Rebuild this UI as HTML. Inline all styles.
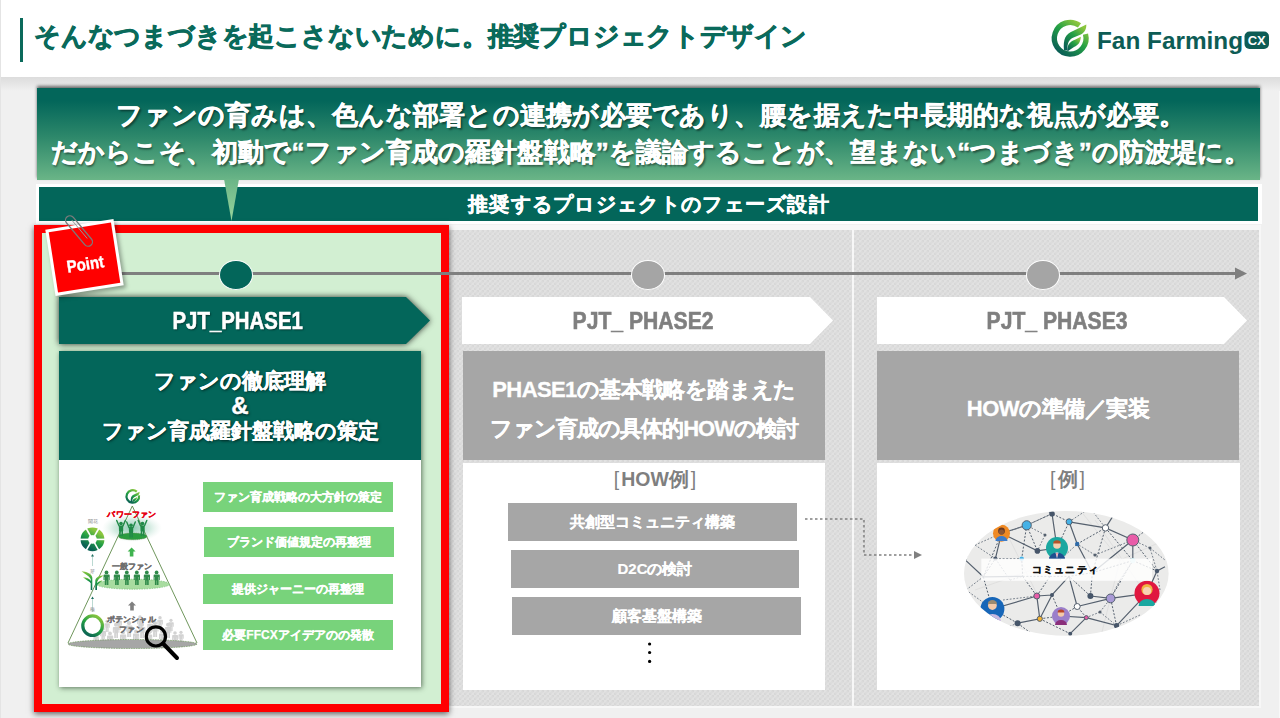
<!DOCTYPE html>
<html lang="ja">
<head>
<meta charset="utf-8">
<style>
*{margin:0;padding:0;box-sizing:border-box;}
html,body{width:1280px;height:718px;overflow:hidden;}
body{position:relative;background:#f0f0f0;font-family:"Liberation Sans",sans-serif;}
.b{-webkit-text-stroke:0.9px currentColor;}
.abs{position:absolute;}
#header{left:1px;top:0;width:1279px;height:77px;background:#fff;}
#hshadow{left:1px;top:77px;width:1279px;height:14px;background:linear-gradient(#dcdcdc,#f0f0f0);}
#leftline{left:0;top:0;width:1px;height:718px;background:#e4e4e4;}
#rightline{left:1279px;top:77px;width:1px;height:641px;background:#f8f8f8;}
#tbar{left:20px;top:18px;width:3px;height:44px;background:#0a6a5b;}
#title{left:34px;top:16px;-webkit-text-stroke:0.7px currentColor;font-size:26px;letter-spacing:-0.2px;font-weight:bold;color:#0a6a5b;white-space:nowrap;line-height:40px;}
#gbox{left:37px;top:88px;width:1223px;height:92px;background:linear-gradient(#03665a 0%,#03665a 14%,#2c876a 52%,#6ab587 100%);box-shadow:0 -2px 3px rgba(0,0,0,.55);}
.msg{left:2px;width:1223px;text-align:center;color:#fff;font-weight:bold;-webkit-text-stroke:0.5px #fff;font-size:26px;letter-spacing:0.2px;white-space:nowrap;text-shadow:1.5px 1.5px 2px rgba(0,0,0,.45);line-height:36px;}
#tail{left:224px;top:179px;width:15px;height:42px;}
#dframe{left:36px;top:184px;width:1226px;height:40px;background:#fff;}
#dbar{left:39px;top:187px;width:1219px;height:34px;background:#03665a;color:#fff;font-weight:bold;-webkit-text-stroke:0.4px #fff;font-size:20px;letter-spacing:1.3px;text-indent:1px;text-align:center;line-height:34px;white-space:nowrap;}
#colbg{left:449px;top:225px;width:812px;height:483px;background:#f7f7f7;}
.col{top:230px;height:476px;background-color:#e1e1e1;
 background-image:linear-gradient(45deg,#d7d7d7 25%,transparent 25%,transparent 75%,#d7d7d7 75%),linear-gradient(45deg,#d7d7d7 25%,transparent 25%,transparent 75%,#d7d7d7 75%);
 background-size:5px 5px;background-position:0 0,2.5px 2.5px;}
#redframe{left:34px;top:225px;width:415px;height:487px;border:8px solid #ff0000;background:#d2efd2;box-shadow:0 2px 6px rgba(0,0,0,.6);}
#tline{left:120px;top:272px;width:1118px;height:3px;background:#7f7f7f;}
.dot{width:34px;height:30px;border-radius:50%;border:1.5px solid #fff;}
.chev{height:47px;top:297px;}
.chevtxt{position:absolute;left:0;top:0;height:47px;line-height:47px;font-weight:bold;-webkit-text-stroke:0.6px currentColor;font-size:24px;text-align:center;white-space:nowrap;}
.gcard{top:351px;height:109px;background:#a6a6a6;color:#fff;font-weight:bold;-webkit-text-stroke:0.3px #fff;text-align:center;}
.wcard{top:463px;background:#fff;}
.gbtn{position:absolute;left:203px;width:190px;height:30px;background:#78d37b;color:#fff;font-weight:bold;-webkit-text-stroke:0.25px #fff;font-size:12px;line-height:30px;text-align:center;white-space:nowrap;}
.hbar{position:absolute;height:38px;background:#a6a6a6;color:#fff;font-weight:bold;-webkit-text-stroke:0.2px #fff;font-size:15px;line-height:38px;text-align:center;white-space:nowrap;}
</style>
</head>
<body>
<div id="leftline" class="abs"></div>
<div id="rightline" class="abs"></div>
<div id="header" class="abs"></div>
<div id="hshadow" class="abs"></div>
<div id="tbar" class="abs"></div>
<div id="title" class="abs">そんなつまづきを起こさないために。推奨プロジェクトデザイン</div>

<!-- logo -->
<svg class="abs" style="left:1046px;top:14px" width="230" height="48" viewBox="0 0 230 48">
 <defs>
  <linearGradient id="lg1" x1="0.85" y1="0.1" x2="0.2" y2="0.95">
   <stop offset="0" stop-color="#8cc63e"/><stop offset="0.45" stop-color="#23a045"/><stop offset="1" stop-color="#0b6155"/>
  </linearGradient>
 </defs>
 <path d="M33.5 11.4 A15.85 15.85 0 1 0 39.5 20.1" fill="none" stroke="url(#lg1)" stroke-width="5.3"/>
 <path d="M18 36.5 C17 25 19.5 20 27 17 L40.3 10.4 C40.5 15.5 38.5 19 33 21.2 L27.5 23.5 C23 25.5 21.3 28.5 21.3 36.5 Z" fill="url(#lg1)"/>
 <path d="M21.3 37.5 C21 31 23.5 28 29 25.8 L34.8 22.7 C34.6 28 32.5 31 28 33 Z" fill="url(#lg1)"/>
 <text x="51" y="34.5" font-family="Liberation Sans" font-weight="bold" font-size="24" fill="#0d5c55" textLength="146" lengthAdjust="spacingAndGlyphs">Fan Farming</text>
 <rect x="198.5" y="17.6" width="24.5" height="17.4" rx="5" fill="#0d5c55"/>
 <text x="210.7" y="31.3" font-family="Liberation Sans" font-weight="bold" font-size="13" fill="#fff" text-anchor="middle">CX</text>
</svg>

<div id="gbox" class="abs">
 <div class="msg abs" style="top:9px;letter-spacing:0.25px">ファンの育みは、色んな部署との連携が必要であり、腰を据えた中長期的な視点が必要。</div>
 <div class="msg abs" style="top:46px;letter-spacing:0.1px">だからこそ、初動で“ファン育成の羅針盤戦略”を議論することが、望まない“つまづき”の防波堤に。</div>
</div>
<div id="dframe" class="abs"></div>
<div id="dbar" class="abs">推奨するプロジェクトのフェーズ設計</div>
<svg id="tail" class="abs" viewBox="0 0 15 42">
 <defs><linearGradient id="tg" x1="0" y1="0" x2="0" y2="1"><stop offset="0" stop-color="#6ab587"/><stop offset="1" stop-color="#98d49c"/></linearGradient></defs>
 <polygon points="0,0 15,0 7.5,42" fill="url(#tg)"/>
</svg>

<div id="colbg" class="abs"></div>
<div class="abs col" style="left:449px;width:403px;"></div>
<div class="abs col" style="left:854px;width:405px;"></div>

<div id="redframe" class="abs"></div>

<div id="tline" class="abs"></div>

<svg class="abs" style="left:1234px;top:267px" width="14" height="13"><polygon points="1,0.5 13,6.5 1,12.5" fill="#7f7f7f"/></svg>
<div class="abs dot" style="left:219px;top:260px;background:#03665a;"></div>
<div class="abs dot" style="left:631px;top:260px;background:#a5a5a5;"></div>
<div class="abs dot" style="left:1026px;top:260px;background:#a5a5a5;"></div>

<!-- chevrons -->
<svg class="abs chev" style="left:59px;filter:drop-shadow(0 0 3px rgba(0,0,0,.8))" width="372" height="47"><polygon points="0,0 347,0 371,23.5 347,47 0,47" fill="#03665a"/></svg>
<div class="abs chev" style="left:59px;width:372px;"><div class="chevtxt" style="width:357px;color:#fff;text-shadow:1px 1px 2px rgba(0,0,0,.6)"><span style="display:inline-block;transform:scaleX(.85)">PJT_PHASE1</span></div></div>
<svg class="abs chev" style="left:462px" width="372" height="47"><polygon points="0,0 348,0 371,23.5 348,47 0,47" fill="#fff"/></svg>
<div class="abs chev" style="left:462px;width:372px;"><div class="chevtxt" style="width:362px;color:#7f7f7f"><span style="display:inline-block;transform:scaleX(.88)">PJT_ PHASE2</span></div></div>
<svg class="abs chev" style="left:877px" width="372" height="47"><polygon points="0,0 347,0 370,23.5 347,47 0,47" fill="#fff"/></svg>
<div class="abs chev" style="left:877px;width:372px;"><div class="chevtxt" style="width:361px;color:#7f7f7f"><span style="display:inline-block;transform:scaleX(.88)">PJT_ PHASE3</span></div></div>

<!-- phase1 card -->
<div class="abs" style="left:59px;top:351px;width:362px;height:336px;background:#fff;box-shadow:1px 1px 5px rgba(30,50,30,.65);"></div>
<div class="abs" style="left:59px;top:351px;width:362px;height:109px;background:#03665a;color:#fff;font-weight:bold;-webkit-text-stroke:0.45px #fff;font-size:21px;text-align:center;line-height:25px;padding-top:17px;text-shadow:1px 1px 3px rgba(0,0,0,.7);">ファンの徹底理解<br><span style="font-size:24px;line-height:22px;display:inline-block;vertical-align:top;margin-top:2px;">&amp;</span><br>ファン育成羅針盤戦略の策定</div>

<!-- pyramid illustration -->
<svg class="abs" style="left:60px;top:480px" width="140" height="190" viewBox="60 480 140 190">
 <defs>
  <radialGradient id="glow" cx="0.5" cy="0.5" r="0.5"><stop offset="0" stop-color="#72bea0" stop-opacity=".8"/><stop offset="0.6" stop-color="#9fd3bd" stop-opacity=".45"/><stop offset="1" stop-color="#cfe9de" stop-opacity="0"/></radialGradient>
  <linearGradient id="sg" x1="0.8" y1="0" x2="0.2" y2="1"><stop offset="0" stop-color="#8cc63e"/><stop offset="0.5" stop-color="#23a045"/><stop offset="1" stop-color="#0b6155"/></linearGradient>
  <linearGradient id="spg" x1="0" y1="0" x2="0" y2="1"><stop offset="0" stop-color="#8cc63e"/><stop offset="0.45" stop-color="#1f9e45"/><stop offset="1" stop-color="#0b6a55"/></linearGradient>
  <g id="pp"><circle cx="0" cy="-12.6" r="1.9"/><path d="M-2.4 -10.4 h4.8 a0.8 0.8 0 0 1 0.8 0.8 v4.6 h-1 v-3 h-0.3 v8 h-1.6 v-4.6 h-0.4 v4.6 h-1.6 v-8 h-0.3 v3 h-1 v-4.6 a0.8 0.8 0 0 1 0.8 -0.8z"/></g>
  <g id="pw"><circle cx="0" cy="-12.4" r="1.8"/><path d="M-2.2 -10.6 h4.4 v5.6 h-0.2 v5 h-1.6 v-4.4 h-0.6 v4.4 h-1.6 v-5 h-0.2z"/><path d="M-2 -10.2 L-4.3 -15.6" stroke-width="1.4" stroke="currentColor" stroke-linecap="round"/><path d="M2 -10.2 L4.3 -15.6" stroke-width="1.4" stroke="currentColor" stroke-linecap="round"/></g>
 </defs>
 <!-- glow -->
 <ellipse cx="132" cy="528" rx="30" ry="14" fill="url(#glow)"/>
 <!-- gray crowd -->
 <g fill="#d2d2d2">
  <use href="#pp" transform="translate(96 645) scale(0.85)"/>
  <use href="#pp" transform="translate(103 641) scale(0.95)"/>
  <use href="#pp" transform="translate(110 646) scale(1.0)"/>
  <use href="#pp" transform="translate(116 638) scale(1.05)"/>
  <use href="#pp" transform="translate(123 645) scale(1.0)"/>
  <use href="#pp" transform="translate(129 637) scale(1.1)"/>
  <use href="#pp" transform="translate(136 644) scale(1.0)"/>
  <use href="#pp" transform="translate(142 638) scale(1.05)"/>
  <use href="#pp" transform="translate(149 645) scale(1.0)"/>
  <use href="#pp" transform="translate(155 637) scale(1.1)"/>
  <use href="#pp" transform="translate(162 644) scale(1.0)"/>
  <use href="#pp" transform="translate(168 638) scale(1.05)"/>
  <use href="#pp" transform="translate(175 645) scale(0.95)"/>
  <use href="#pp" transform="translate(181 643) scale(0.85)"/>
  <use href="#pp" transform="translate(119 630) scale(0.9)"/>
  <use href="#pp" transform="translate(140 629) scale(0.95)"/>
  <use href="#pp" transform="translate(160 629) scale(0.9)"/>
  <use href="#pp" transform="translate(171 631) scale(0.85)"/>
  <use href="#pp" transform="translate(107 632) scale(0.85)"/>
  <use href="#pp" transform="translate(150 633) scale(0.9)"/>
 </g>
 <!-- triangle -->
 <polyline points="68,643 132.3,506 197,643" fill="none" stroke="#5f8a4a" stroke-width="0.9"/>
 <!-- bottom ellipse -->
 <ellipse cx="132.5" cy="644" rx="64.5" ry="4.5" fill="#a6a6a6" stroke="#6f9a5a" stroke-width="0.7" stroke-dasharray="1.5,1"/>
 <!-- middle ellipse -->
 <ellipse cx="133" cy="584.2" rx="36.5" ry="5" fill="#a8dca0" stroke="#6fbf6f" stroke-width="0.7" stroke-dasharray="1.5,1"/>
 <g fill="#2f8a4a">
  <use href="#pp" transform="translate(106.5 585)"/><use href="#pp" transform="translate(116.8 585)"/><use href="#pp" transform="translate(126.8 585)"/>
  <use href="#pp" transform="translate(136.8 585)"/><use href="#pp" transform="translate(146.8 585)"/><use href="#pp" transform="translate(156.6 585)"/>
 </g>
 <!-- top ellipse -->
 <ellipse cx="132.7" cy="536.4" rx="14.2" ry="3.4" fill="#2a9c3f" stroke="#5a7a40" stroke-width="0.5" stroke-dasharray="1.2,0.8"/>
 <g fill="#218a48" color="#218a48">
  <use href="#pw" transform="translate(121 536)"/><use href="#pw" transform="translate(131 537.6)"/><use href="#pw" transform="translate(142.5 536)"/>
 </g>
 <!-- arrows -->
 <path d="M131.6 547.6 l4 4 h-2.2 v5 h-3.6 v-5 h-2.2z" fill="#3fb34f"/>
 <path d="M132 601.5 l4 4 h-2.2 v5 h-3.6 v-5 h-2.2z" fill="#808080"/>
 <!-- labels -->
 <text x="132" y="517" font-family="Liberation Sans" font-weight="bold" font-size="8" fill="#e60012" stroke="#e60012" stroke-width="0.35" text-anchor="middle" letter-spacing="0.2">パワーファン</text>
 <text x="132" y="569" font-family="Liberation Sans" font-weight="bold" font-size="8.2" fill="#6f6f6f" stroke="#6f6f6f" stroke-width="0.3" text-anchor="middle" letter-spacing="0.2">一般ファン</text>
 <text x="131.3" y="622" font-family="Liberation Sans" font-weight="bold" font-size="8.2" fill="#6f6f6f" stroke="#6f6f6f" stroke-width="0.3" text-anchor="middle" letter-spacing="0.2">ポテンシャル</text>
 <text x="131.5" y="631.5" font-family="Liberation Sans" font-weight="bold" font-size="8.2" fill="#6f6f6f" stroke="#6f6f6f" stroke-width="0.3" text-anchor="middle" letter-spacing="0.2">ファン</text>
 <!-- small logo -->
 <path d="M136.8 491.6 A6.3 6.3 0 1 0 139 495.4" fill="none" stroke="url(#sg)" stroke-width="2.2"/>
 <path d="M130.8 502 C130.5 497.5 131.5 495.5 134.5 494.3 L139.6 491.8 C139.5 494 138.8 495.2 136.6 496 L134.6 497 C133 497.7 132.2 499 132.2 502 Z" fill="url(#sg)"/>
 <path d="M132.2 502.5 C132.2 500 133.2 499 135.5 498 L137.2 497 C137.1 499 136.3 500.2 134.8 501 Z" fill="url(#sg)"/>
 <!-- left: segmented flower -->
 <g>
  <circle cx="92.5" cy="539.4" r="8" fill="none" stroke="url(#sg)" stroke-width="7.8"/>
  <g stroke="#fff" stroke-width="1.6">
   <line x1="92.5" y1="539.4" x2="92.5" y2="526.5" transform="rotate(30 92.5 539.4)"/>
   <line x1="92.5" y1="539.4" x2="92.5" y2="526.5" transform="rotate(90 92.5 539.4)"/>
   <line x1="92.5" y1="539.4" x2="92.5" y2="526.5" transform="rotate(150 92.5 539.4)"/>
   <line x1="92.5" y1="539.4" x2="92.5" y2="526.5" transform="rotate(210 92.5 539.4)"/>
   <line x1="92.5" y1="539.4" x2="92.5" y2="526.5" transform="rotate(270 92.5 539.4)"/>
   <line x1="92.5" y1="539.4" x2="92.5" y2="526.5" transform="rotate(330 92.5 539.4)"/>
  </g>
  <circle cx="92.5" cy="539.4" r="4" fill="#fff"/>
 </g>
 <text x="92.5" y="523" font-family="Liberation Sans" font-size="4.5" fill="#888" text-anchor="middle">開花</text>
 <!-- connector arrows -->
 <line x1="92.5" y1="566" x2="92.5" y2="556" stroke="#a9cfc6" stroke-width="0.8"/>
 <path d="M92.5 554 l1.5 2.5 h-3z" fill="#1f6f60"/>
 <text x="92.5" y="573" font-family="Liberation Sans" font-size="4.5" fill="#888" text-anchor="middle">芽</text>
 <line x1="92.5" y1="612" x2="92.5" y2="599" stroke="#a9cfc6" stroke-width="0.8"/>
 <path d="M92.5 596.5 l1.5 2.5 h-3z" fill="#1f6f60"/>
 <text x="92.5" y="611" font-family="Liberation Sans" font-size="4.5" fill="#888" text-anchor="middle">種</text>
 <!-- sprout -->
 <g fill="url(#spg)">
  <path d="M81.6 571.3 C86 571.5 91.5 573.5 92.3 577.5 L92.3 590 L90.7 590 L90.7 579 C89 575.8 85 574.2 81.6 571.3 Z"/>
  <path d="M83 577.3 C86.3 577.3 89.8 578.8 91 581.3 L91 583.3 C89 580.8 86 580.3 83 577.3 Z"/>
  <path d="M103.7 575.3 C100 575.5 96.3 577 95.3 580.3 L95.3 590 L97 590 L97 581.5 C98 579 101 577.8 103.7 575.3 Z"/>
  <path d="M102.7 580.3 C100 580.5 97.5 582 96.6 584 L96.6 585.8 C98 583.3 100.5 582.7 102.7 580.3 Z"/>
 </g>
 <!-- ring -->
 <circle cx="92.6" cy="625.7" r="9.8" fill="none" stroke="url(#sg)" stroke-width="3.2"/>
 <!-- magnifier -->
 <circle cx="155.9" cy="636.4" r="9.6" fill="none" stroke="#000" stroke-width="3.2"/>
 <line x1="163" y1="643.5" x2="177" y2="658" stroke="#000" stroke-width="4" stroke-linecap="round"/>
</svg>
<div class="gbtn" style="top:482px">ファン育成戦略の大方針の策定</div>
<div class="gbtn" style="top:527px;left:204px;">ブランド価値規定の再整理</div>
<div class="gbtn" style="top:574px">提供ジャーニーの再整理</div>
<div class="gbtn" style="top:620px">必要FFCXアイデアのの発散</div>

<!-- phase2 -->
<div class="abs gcard" style="left:463px;width:362px;font-size:22px;line-height:38.5px;padding-top:20px;white-space:nowrap;"><span style="letter-spacing:-0.6px">PHASE1の基本戦略を踏まえた</span><br><span style="letter-spacing:-0.95px">ファン育成の具体的HOWの検討</span></div>
<div class="abs wcard" style="left:463px;width:362px;height:227px;"></div>
<div class="abs" style="left:474px;top:465px;width:362px;text-align:center;color:#7f7f7f;font-weight:bold;font-size:19.5px;line-height:28px;white-space:nowrap;"><span style="font-weight:normal;letter-spacing:2px">[</span>HOW例<span style="font-weight:normal;margin-left:2px">]</span></div>
<div class="hbar" style="left:508px;top:503px;width:289px;">共創型コミュニティ構築</div>
<div class="hbar" style="left:511px;top:550px;width:288px;">D2Cの検討</div>
<div class="hbar" style="left:512px;top:597px;width:289px;">顧客基盤構築</div>
<svg class="abs" style="left:645px;top:640px" width="10" height="26"><circle cx="4.6" cy="4" r="1.6" fill="#000"/><circle cx="4.6" cy="12.5" r="1.6" fill="#000"/><circle cx="4.6" cy="21.4" r="1.6" fill="#000"/></svg>

<!-- phase3 -->
<div class="abs gcard" style="left:877px;width:362px;font-size:22px;line-height:116px;letter-spacing:-0.5px;">HOWの準備／実装</div>
<div class="abs wcard" style="left:877px;width:363px;height:227px;"></div>
<div class="abs" style="left:886px;top:465px;width:363px;text-align:center;color:#7f7f7f;font-weight:bold;font-size:19.5px;line-height:28px;white-space:nowrap;"><span style="font-weight:normal;letter-spacing:2px">[</span>例<span style="font-weight:normal;margin-left:2px">]</span></div>


<!-- community network -->
<svg class="abs" style="left:960px;top:505px" width="215" height="137" viewBox="960 505 215 137">
 <defs>
  <clipPath id="ec"><ellipse cx="1066.3" cy="573.4" rx="102.3" ry="62.4"/></clipPath>
 </defs>
 <g clip-path="url(#ec)">
  <rect x="960" y="505" width="215" height="137" fill="#ebebea"/>
  <g stroke="#dcdcdc" stroke-width="0.8" fill="none">
   <path d="M1080 510 L1120 560 L1165 540 M1095 520 L1150 600 M1000 520 L1040 600 M1120 560 L1100 640 M975 590 L1060 560"/>
  </g>
  <g stroke="#55606e" stroke-width="1.2" fill="none">
   <path d="M1001.5 533.3 L1026.7 525.3 M1001.5 533.3 L1037.4 550.9 L1057 548 M1001.5 533.3 L995.4 558.6 M1052 513.7 L1057 548 M1069.1 521.8 L1105.5 527.9 L1132.8 540 M1069.1 521.8 L1077.2 544 L1092.4 572.7 M1132.8 540 L1092.4 572.7 M1132.8 540 L1132.8 560.6 M966 560.6 L983.3 576.8 M1036.8 596 L992.4 609 M1036.8 596 L1052 595 L1069 576.4 M1036.8 596 L1039.8 618.8 L1017.6 623.2 M1052 595 L1039.8 618.8 M1090.4 596 L1110.6 598.4 L1147 593.3 M1110.6 598.4 L1077.2 606.5 M1086.3 617.6 L1116.6 625.7 L1147 593.3 M1061 616 L1086.3 617.6 M1069 576.4 L1077.2 606.5 M1105.5 527.9 L1120 505 M1052 513.7 L1040 505 M1147 593.3 L1157 571 L1165 566.7 M983.3 576.8 L1022.7 576.4 M1070.2 633.7 L1086.3 617.6"/>
  </g>
  <g stroke="#55606e" stroke-width="1" stroke-dasharray="2,1.6" fill="none">
   <path d="M1026.7 525.3 L1052 513.7 L1069.1 521.8 M1026.7 525.3 L1037.4 550.9 M1026.7 525.3 L1021.7 558.6 L1022.7 576.4 M995.4 558.6 L1021.7 558.6 M983.3 576.8 L995.4 558.6 M1057 548 L1069.1 521.8 M1105.5 527.9 L1092.4 572.7 M1105.5 527.9 L1132.8 560.6 M1132.8 560.6 L1157 571 M1092.4 572.7 L1132.8 560.6 M1050 576.4 L1036.8 596 M1050 576.4 L1069 576.4 L1092.4 572.7 M1022.7 576.4 L1036.8 596 M983.3 576.8 L992.4 609 M966 560.6 L975 530 M1022.7 576.4 L1050 576.4 M1092.4 572.7 L1090.4 596 M1110.6 598.4 L1132.8 560.6 M1077.2 606.5 L1061 616 M1039.8 618.8 L1061 616 M1017.6 623.2 L992.4 609 M1039.8 618.8 L1070.2 633.7 M1086.3 617.6 L1077.2 606.5 M1116.6 625.7 L1110.6 598.4 M1147 593.3 L1165 610 M1157 571 L1132.8 540 M1001.5 533.3 L983.3 576.8 M1077.2 544 L1105.5 527.9 M1052 595 L1061 616 M1017.6 623.2 L1040 640 M1090.4 596 L1069 576.4 M1132.8 540 L1160 520"/>
  </g>
  <g stroke="#6a7480" stroke-width="0.9" stroke-dasharray="1.8,1.6" fill="none">
   <path d="M975 545 L995.4 558.6 M975 545 L1001.5 533.3 M1026.7 525.3 L1001.5 533.3 M1052 513.7 L1026.7 525.3 M1069.1 521.8 L1090 508 L1105.5 527.9 M1132.8 540 L1150 548 L1157 571 M1150 548 L1165 560 M966 590 L983.3 576.8 M966 590 L992.4 609 M1000 630 L1017.6 623.2 M1100 612 L1116.6 625.7 M1100 612 L1110.6 598.4 M1100 612 L1086.3 617.6 M1140 615 L1116.6 625.7 M1045 535 L1037.4 550.9 M1045 535 L1026.7 525.3 M1095 555 L1077.2 544 M1095 555 L1132.8 540 M1120 580 L1132.8 560.6 M1120 580 L1110.6 598.4 M1060 560 L1077.2 544 M1003 600 L1036.8 596 M1010 580 L995.4 558.6 M1010 580 L1022.7 576.4 M1160 590 L1157 571"/>
  </g>
  <g fill="#55606e"><circle cx="1045" cy="535" r="1.5"/><circle cx="1095" cy="555" r="1.6"/><circle cx="1100" cy="612" r="1.6"/><circle cx="1150" cy="548" r="1.5"/></g>
  <!-- nodes -->
  <g stroke="#55606e" stroke-width="1">
   <circle cx="1026.7" cy="525.3" r="4.6" fill="#45b1e6"/>
   <circle cx="1069.1" cy="521.8" r="3" fill="#45b1e6"/>
   <circle cx="1105.5" cy="527.9" r="3.2" fill="#fff"/>
   <circle cx="1132.8" cy="540" r="6" fill="#e85ca8"/>
   <circle cx="1110.6" cy="598.4" r="4.4" fill="#a99ad6"/>
   <circle cx="1077.2" cy="606.5" r="3" fill="#fff"/>
   <circle cx="1036.8" cy="596" r="3" fill="#e85ca8"/>
   <circle cx="1039.8" cy="618.8" r="2.6" fill="#f2b233"/>
   <circle cx="1086.3" cy="617.6" r="2" fill="#e85ca8"/>
  </g>
  <g fill="#47566a">
   <circle cx="1052" cy="513.7" r="2.8"/><circle cx="1077.2" cy="544" r="2.2" fill="#2e6aa8"/>
   <circle cx="1037.4" cy="550.9" r="2.8"/><circle cx="995.4" cy="558.6" r="2"/><circle cx="1157" cy="571" r="2.2"/>
   <circle cx="1052" cy="595" r="2"/><circle cx="1090.4" cy="596" r="3"/><circle cx="1017.6" cy="623.2" r="3"/>
   <circle cx="1116.6" cy="625.7" r="2.6"/><circle cx="1070.2" cy="633.7" r="2"/>
  </g>
  <circle cx="1021.7" cy="558.6" r="2.2" fill="#45b1e6"/>
  <circle cx="1132.8" cy="560.6" r="2.6" fill="#bfe9ef"/>
  <!-- avatars -->
  <g>
   <circle cx="1001.5" cy="533.3" r="8.5" fill="#f08a24"/>
   <circle cx="1001.5" cy="531" r="3.4" fill="#6b3a22"/><path d="M995.5 541 a6 5 0 0 1 12 0z" fill="#3d7cc9"/><circle cx="1001.5" cy="532" r="2.6" fill="#8f5632"/>
   <circle cx="1057" cy="548" r="11" fill="#1aa7a0"/>
   <circle cx="1057" cy="545" r="3.8" fill="#f6cfb0"/><path d="M1053.2 543.5 a3.8 3.2 0 0 1 7.6 0z" fill="#b5542a"/><path d="M1049 559 a8 6.5 0 0 1 16 0z" fill="#1f4f8f"/><path d="M1055.5 552.5 h3 l-1.5 6z" fill="#fff"/><path d="M1056.5 553 h1 l-0.5 4.5z" fill="#d0233a"/>
   <circle cx="1147" cy="593.3" r="12.5" fill="#e0173f"/>
   <circle cx="1147" cy="589.5" r="5.6" fill="#f0b442"/><circle cx="1147" cy="591" r="4" fill="#f8d2b4"/><path d="M1138.5 606 a8.5 7 0 0 1 17 0z" fill="#1aa7a0"/>
   <circle cx="992.4" cy="609" r="12" fill="#1766b8"/>
   <circle cx="992.4" cy="605.5" r="4.4" fill="#f3c9a8"/><path d="M987.8 604 a4.6 4 0 0 1 9.2 0z" fill="#9b8a70"/><path d="M984 621 a8.5 7 0 0 1 17 0z" fill="#c8b8e0"/>
   <circle cx="1061" cy="616" r="9" fill="#9b7fca"/>
   <circle cx="1061" cy="613.5" r="3.2" fill="#f3c9a8"/><path d="M1057.6 612.5 a3.4 3 0 0 1 6.8 0z" fill="#b8452a"/><path d="M1055 625 a6 5 0 0 1 12 0z" fill="#8a2e7a"/>
  </g>
  <!-- band -->
  <rect x="981.3" y="558.6" width="170.7" height="22.2" fill="#fff" fill-opacity=".82"/>
 </g>
 <text x="1065.5" y="573.4" font-family="Liberation Sans" font-weight="bold" font-size="10" fill="#111" stroke="#111" stroke-width="0.3" text-anchor="middle" letter-spacing="1.2">コミュニティ</text>
</svg>

<!-- dashed connector -->
<svg class="abs" style="left:800px;top:510px" width="130" height="55">
 <polyline points="5,9 64,9 64,45 115,45" fill="none" stroke="#808080" stroke-width="1.5" stroke-dasharray="2.5,2.5"/>
 <polygon points="114,41 122,45 114,49" fill="#808080"/>
</svg>


<!-- Point note -->
<div class="abs" style="left:49.5px;top:223.5px;width:69px;height:67px;transform:rotate(-8.8deg);background:#fff;box-shadow:2px 3px 4px rgba(0,0,0,.35);">
 <div style="position:absolute;left:3px;top:3px;width:63px;height:61px;background:#ff0000;"></div>
 <div style="position:absolute;left:0;top:31px;width:69px;text-align:center;color:#fff;font-weight:bold;font-size:17px;line-height:20px;-webkit-text-stroke:0.4px #fff;"><span style="display:inline-block;transform:scaleX(.88)">Point</span></div>
</div>
<svg class="abs" style="left:55px;top:205px" width="50" height="50" viewBox="55 205 50 50">
 <rect x="60.5" y="226.6" width="37" height="8.8" rx="4.4" fill="none" stroke="#7b7b7b" stroke-width="1.3" transform="rotate(50 79 231)"/><line x1="66" y1="231" x2="90" y2="231" stroke="#9a9a9a" stroke-width="0.9" transform="rotate(50 79 231) translate(0 -1.5)"/>
</svg>
</body>
</html>
